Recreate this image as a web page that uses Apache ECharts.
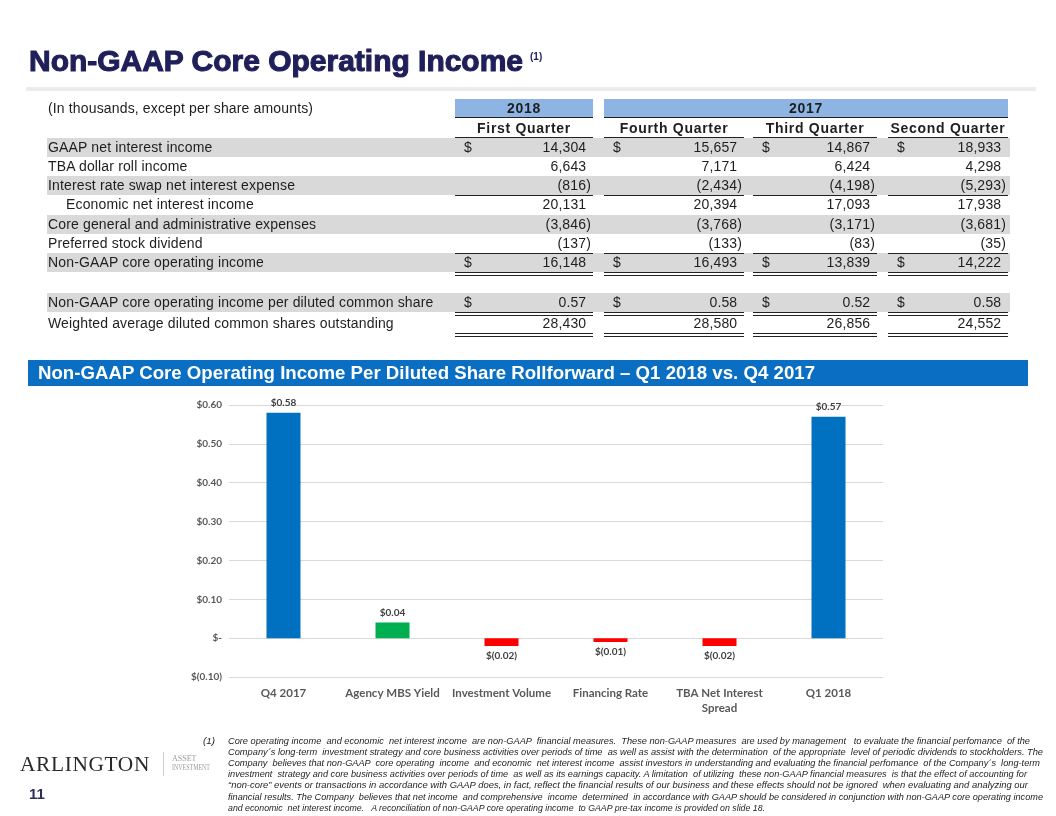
<!DOCTYPE html>
<html><head><meta charset="utf-8">
<script src="https://cdn.jsdelivr.net/npm/echarts@6/dist/echarts.min.js"></script>
<style>
body{margin:0;background:#fff;}
#page{position:relative;width:1056px;height:816px;background:#fff;overflow:hidden;font-family:'Liberation Sans',Arial,sans-serif;color:#1a1a1a;}
.t{position:absolute;white-space:nowrap;}
.box{position:absolute;}
</style></head><body><div id="page">
<div id="chart" style="position:absolute;left:0;top:0;width:1056px;height:816px;"></div>
</div>
<script>
// ---------------- DATA ----------------
const titleText = 'Non-GAAP Core Operating Income';
const titleNote = '(1)';
const unitNote = '(In thousands, except per share amounts)';
const yearHeaders = ['2018', '2017'];
const quarterHeaders = ['First Quarter', 'Fourth Quarter', 'Third Quarter', 'Second Quarter'];
const rowLabels = [
  'GAAP net interest income',
  'TBA dollar roll income',
  'Interest rate swap net interest expense',
  'Economic net interest income',
  'Core general and administrative expenses',
  'Preferred stock dividend',
  'Non-GAAP core operating income',
  'Non-GAAP core operating income per diluted common share',
  'Weighted average diluted common shares outstanding'
];
const q1_2018 = [14304, 6643, -816, 20131, -3846, -137, 16148, 0.57, 28430];
const q4_2017 = [15657, 7171, -2434, 20394, -3768, -133, 16493, 0.58, 28580];
const q3_2017 = [14867, 6424, -4198, 17093, -3171, -83, 13839, 0.52, 26856];
const q2_2017 = [18933, 4298, -5293, 17938, -3681, -35, 14222, 0.58, 24552];
const dollarRows = [0, 6, 7];
const perShareRows = [7];

const chartTitle = 'Non-GAAP Core Operating Income Per Diluted Share Rollforward \u2013 Q1 2018 vs. Q4 2017';
const categories = ['Q4 2017', 'Agency MBS Yield', 'Investment Volume', 'Financing Rate', 'TBA Net Interest\nSpread', 'Q1 2018'];
const perShareChange = [0.58, 0.04, -0.02, -0.01, -0.02, 0.57];
const yMin = -0.1, yMax = 0.6, yStep = 0.1;

const footnoteMark = '(1)';
const footnoteLines = [
  'Core operating income  and economic  net interest income  are non-GAAP  financial measures.  These non-GAAP measures  are used by management   to evaluate the financial perfomance  of the',
  'Company\u00b4s long-term  investment strategy and core business activities over periods of time  as well as assist with the determination  of the appropriate  level of periodic dividends to stockholders. The',
  'Company  believes that non-GAAP  core operating  income  and economic  net interest income  assist investors in understanding and evaluating the financial perfomance  of the Company\u00b4s  long-term',
  'investment  strategy and core business activities over periods of time  as well as its earnings capacity. A limitation  of utilizing  these non-GAAP financial measures  is that the effect of accounting for',
  '\u201cnon-core\u201d events or transactions in accordance with GAAP does, in fact, reflect the financial results of our business and these effects should not be ignored  when evaluating and analyzing our',
  'financial results. The Company  believes that net income  and comprehensive  income  determined  in accordance with GAAP should be considered in conjunction with non-GAAP core operating income',
  'and economic  net interest income.   A reconciliation of non-GAAP core operating income  to GAAP pre-tax income is provided on slide 18.'
];
const logoMain = 'ARLINGTON';
const logoSub = ['ASSET', 'INVESTMENT'];
const pageNumber = '11';

// ---------------- LAYOUT HELPERS ----------------
const page = document.getElementById('page');
function box(x, y, w, h, bg) {
  const d = document.createElement('div'); d.className = 'box';
  Object.assign(d.style, {left: x + 'px', top: y + 'px', width: w + 'px', height: h + 'px', background: bg});
  page.appendChild(d); return d;
}
function text(str, x, cy, css, align) {
  const d = document.createElement('div'); d.className = 't';
  d.textContent = str;
  const lh = 40;
  Object.assign(d.style, {top: (cy - lh / 2) + 'px', height: lh + 'px', lineHeight: lh + 'px'}, css || {});
  page.appendChild(d);
  const w = d.getBoundingClientRect().width;
  if (align === 'right') d.style.left = (x - w) + 'px';
  else if (align === 'center') d.style.left = (x - w / 2) + 'px';
  else d.style.left = x + 'px';
  return d;
}
function fitWidth(d, target) {
  const w = d.getBoundingClientRect().width;
  d.style.transformOrigin = 'left center';
  d.style.transform = 'scaleX(' + (target / w) + ')';
}

// ---------------- TITLE ----------------
const navy = '#1f1f5a';
const tt = text(titleText, 29, 61, {fontSize: '30px', fontWeight: 'bold', color: navy, webkitTextStroke: '1.1px ' + navy});
fitWidth(tt, 494);
text(titleNote, 530, 57, {fontSize: '10px', fontWeight: 'bold', color: navy});
box(26, 87, 1010, 4, '#ececec');

// ---------------- TABLE ----------------
const cols = [[455, 593], [604, 744], [753, 877], [888, 1008]];
const colData = [q1_2018, q4_2017, q3_2017, q2_2017];
const rowCenters = [147, 166, 185, 204, 224, 243, 262, 302, 323];
const grayRows = [0, 2, 4, 6, 7];
const singleLineRows = [2, 5];
const doubleLineRows = [6, 7, 8];
const fs = {fontSize: '14px', color: '#1e1e1e', letterSpacing: '0.15px'};
const fsb = {fontSize: '14px', color: '#1e1e1e', fontWeight: 'bold', letterSpacing: '0.7px'};

grayRows.forEach(r => box(47, rowCenters[r] - 9.5, 963, 19, '#d9d9d9'));
box(cols[0][0], 99, cols[0][1] - cols[0][0], 18, '#8db4e2');
box(cols[1][0], 99, cols[3][1] - cols[1][0], 18, '#8db4e2');
box(cols[0][0], 117, cols[0][1] - cols[0][0], 1, '#222');
box(cols[1][0], 117, cols[3][1] - cols[1][0], 1, '#222');
text(yearHeaders[0], (cols[0][0] + cols[0][1]) / 2, 108, fsb, 'center');
text(yearHeaders[1], (cols[1][0] + cols[3][1]) / 2, 108, fsb, 'center');
text(unitNote, 48, 108, fs);
quarterHeaders.forEach((q, i) => {
  text(q, (cols[i][0] + cols[i][1]) / 2, 128, fsb, 'center');
  box(cols[i][0], 137, cols[i][1] - cols[i][0], 1, '#222');
});
rowLabels.forEach((lab, r) => text(lab, r === 3 ? 66 : 48, rowCenters[r], fs));

function fmtNum(v, r) {
  const a = Math.abs(v);
  const s = perShareRows.includes(r) ? a.toFixed(2) : a.toLocaleString('en-US');
  return v < 0 ? '(' + s + ')' : s;
}
colData.forEach((arr, c) => {
  const [x0, x1] = cols[c];
  arr.forEach((v, r) => {
    const cy = rowCenters[r];
    if (dollarRows.includes(r)) text('$', x0 + 9, cy, fs);
    text(fmtNum(v, r), x1 - 2, cy, Object.assign({}, fs, {paddingRight: v < 0 ? '0px' : '4.7px'}), 'right');
  });
  singleLineRows.forEach(r => box(x0, rowCenters[r] + 9.5, x1 - x0, 1, '#222'));
  doubleLineRows.forEach(r => { box(x0, rowCenters[r] + 9.5, x1 - x0, 1, '#222'); box(x0, rowCenters[r] + 12.5, x1 - x0, 1, '#222'); });
});

// ---------------- BANNER ----------------
box(28, 360, 1000, 26, '#0a6fc2');
const bt = text(chartTitle, 38, 373, {fontSize: '19px', fontWeight: 'bold', color: '#fff', fontFamily: "'Liberation Sans Narrow','Liberation Sans',Arial,sans-serif"});
fitWidth(bt, 777);

// ---------------- FOOTNOTE ----------------
const fnEnds = [1030, 1043, 1040, 1027, 1028, 1043, 765];
const fnCss = {fontSize: '9.8px', fontStyle: 'italic', color: '#1e1e1e', fontFamily: "'Liberation Sans Narrow','Liberation Sans',Arial,sans-serif", whiteSpace: 'pre'};
text(footnoteMark, 215, 741, fnCss, 'right');
footnoteLines.forEach((ln, i) => {
  const d = text(ln, 228, 741 + i * 11.1, fnCss);
  fitWidth(d, fnEnds[i] - 228);
});

// ---------------- LOGO / PAGE ----------------
const lg = text(logoMain, 20, 764, {fontSize: '20px', color: '#2a2a2a', fontFamily: "'Liberation Serif','Times New Roman',serif", letterSpacing: '0.6px'});
fitWidth(lg, 130);
box(163, 752, 1, 24, '#cfcfcf');
text(logoSub[0], 172, 759, {fontSize: '8px', color: '#9a9a9a', fontFamily: "'Liberation Serif',serif"});
const ls = text(logoSub[1], 172, 768, {fontSize: '8px', color: '#9a9a9a', fontFamily: "'Liberation Serif',serif"});
fitWidth(ls, 38);
text(pageNumber, 29, 794, {fontSize: '15px', fontWeight: 'bold', color: '#2e2e5a'});

// ---------------- CHART ----------------
function money(v) {
  if (Math.abs(v) < 1e-9) return '$-';
  const s = Math.abs(v).toFixed(2);
  return v < 0 ? '$(' + s + ')' : '$' + s;
}
function barColor(v, i) {
  if (i === 0 || i === perShareChange.length - 1) return '#0070c0';
  return v >= 0 ? '#00b050' : '#ff0000';
}
const lblFont = "Lato, 'Open Sans', sans-serif";
const chart = echarts.init(document.getElementById('chart'));
chart.setOption({
  backgroundColor: 'transparent',
  animation: false,
  grid: {left: 229, right: 173, top: 405, bottom: 139, containLabel: false},
  xAxis: {
    type: 'category', data: categories,
    axisLine: {show: false, onZero: false}, axisTick: {show: false},
    axisLabel: {interval: 0, color: '#595959', fontFamily: lblFont, fontWeight: 'bold', fontSize: 11.5, margin: 9, lineHeight: 15}
  },
  yAxis: {
    type: 'value', min: yMin, max: yMax, interval: yStep,
    axisLine: {show: false}, axisTick: {show: false},
    splitLine: {lineStyle: {color: '#d9d9d9', width: 1}},
    axisLabel: {formatter: money, color: '#595959', fontFamily: lblFont, fontWeight: 'bold', fontSize: 10, margin: 7}
  },
  series: [{
    type: 'bar', barWidth: 34,
    data: perShareChange.map((v, i) => ({
      value: v,
      itemStyle: {color: barColor(v, i)},
      label: {position: v < 0 ? 'bottom' : 'top'}
    })),
    label: {show: true, formatter: p => money(p.value), color: '#404040', fontFamily: lblFont, fontWeight: 'bold', fontSize: 10, distance: 5}
  }]
});
</script>
</body></html>
